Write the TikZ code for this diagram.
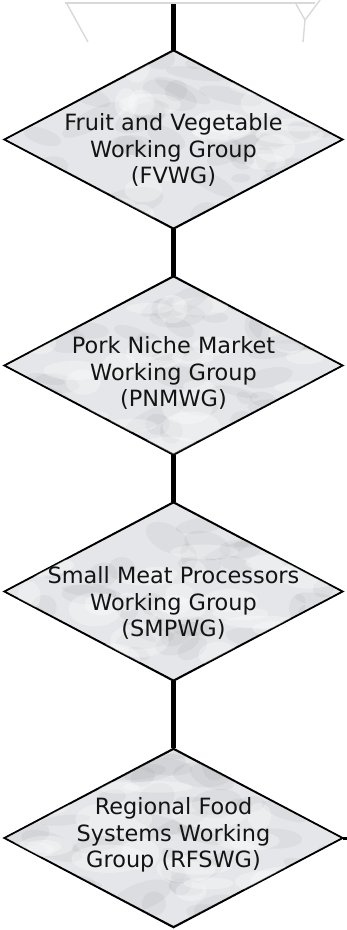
\documentclass[tikz,border=0pt]{standalone}
\usepackage{fontspec}
\setmainfont{DejaVu Sans}
\usetikzlibrary{shapes.geometric,calc}
\definecolor{marble}{RGB}{228,230,233}
\definecolor{vein}{RGB}{140,142,146}
\definecolor{txt}{RGB}{20,20,20}
\tikzset{
  wg/.style={shape=diamond, draw=black, line width=1.3pt, fill=marble,
    minimum width=338pt, minimum height=178pt, inner sep=0pt, text=txt},
  wgtext/.style={align=center, text=txt, font=\fontsize{22.4}{26.5}\selectfont, inner sep=0pt},
  link/.style={line width=4.2pt, draw=black},
  faint/.style={draw=gray!30, line width=1.4pt}
}
\newcommand{\marbletex}[1]{%
  \begin{scope}
    \clip (#1.north) -- (#1.east) -- (#1.south) -- (#1.west) -- cycle;
    \foreach \i in {1,...,45}{
      \pgfmathsetmacro{\xx}{rnd*300-150}
      \pgfmathsetmacro{\yy}{rnd*160-80}
      \pgfmathsetmacro{\rx}{8+rnd*26}
      \pgfmathsetmacro{\ry}{4+rnd*10}
      \pgfmathsetmacro{\ang}{rnd*60-30}
      \fill[vein, opacity=0.10, rotate around={\ang:($(#1.center)+(\xx,\yy)$)}]
        ($(#1.center)+(\xx,\yy)$) ellipse ({\rx pt} and {\ry pt});
    }
    \foreach \i in {1,...,25}{
      \pgfmathsetmacro{\xx}{rnd*300-150}
      \pgfmathsetmacro{\yy}{rnd*160-80}
      \pgfmathsetmacro{\rx}{10+rnd*30}
      \pgfmathsetmacro{\ry}{5+rnd*12}
      \fill[white, opacity=0.3]
        ($(#1.center)+(\xx,\yy)$) ellipse ({\rx pt} and {\ry pt});
    }
  \end{scope}}
\begin{document}
\begin{tikzpicture}[x=1pt,y=-1pt]
\pgfmathsetseed{7}
\useasboundingbox (0,0) rectangle (347,930);
% faint remnant of shape above
\draw[faint] (65,3) -- (315,3);
\draw[faint] (67,4) -- (88,42);
\draw[faint] (296,4) -- (305,20) -- (303,42);
\draw[faint] (305,20) -- (320,0);

\node[wg] (d1) at (173.5,139.5) {};
\node[wg] (d2) at (173.5,365.5) {};
\node[wg] (d3) at (173.5,591.5) {};
\node[wg] (d4) at (173.5,838) {};
\marbletex{d1}
\marbletex{d2}
\marbletex{d3}
\marbletex{d4}
\foreach \d in {d1,d2,d3,d4}{
  \draw[line width=1.3pt] (\d.north) -- (\d.east) -- (\d.south) -- (\d.west) -- cycle;
}

\node[wgtext] (t1) at (173.5,150) {Fruit and Vegetable\\Working Group\\(FVWG)};
\node[wgtext] (t2) at (173.5,373) {Pork Niche Market\\Working Group\\(PNMWG)};
\node[wgtext] (t3) at (173.5,603) {Small Meat Processors\\Working Group\\(SMPWG)};
\node[wgtext] (t4) at (173.5,835) {Regional Food\\Systems Working\\Group (RFSWG)};

\coordinate (top) at (173.5,4);
\coordinate (rightend) at (347,838);
\draw[link] (top) -- (d1.north);
\draw[link] (d1.south) -- (d2.north);
\draw[link] (d2.south) -- (d3.north);
\draw[link] (d3.south) -- (d4.north);
\draw[link, line width=3pt] (d4.east) -- (rightend);
\end{tikzpicture}
\end{document}
